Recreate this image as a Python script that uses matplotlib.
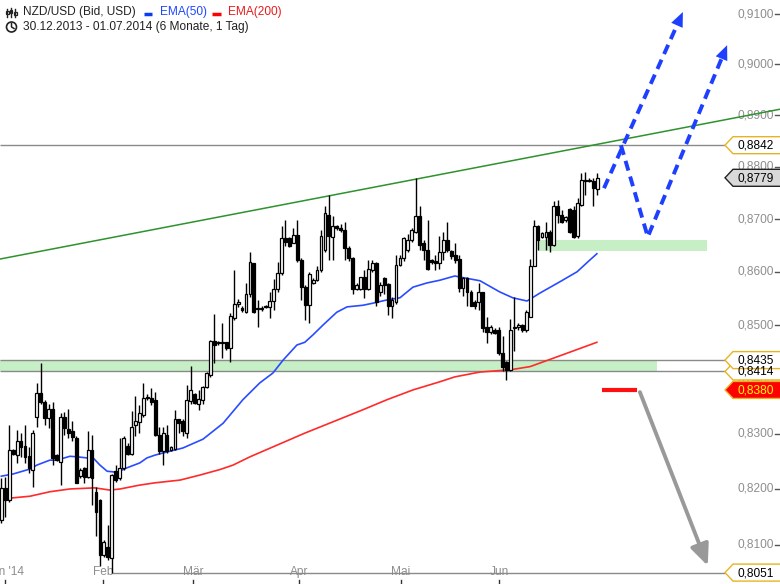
import numpy as np
import matplotlib
matplotlib.use('Agg')
import matplotlib.pyplot as plt
import matplotlib.transforms as mtransforms
from matplotlib.patches import Polygon, Circle, Rectangle

plt.rcParams['font.family'] = ['Liberation Sans', 'DejaVu Sans']

# daily candles NZD/USD (index 0 = first visible day)
opens = [0.8144, 0.8201, 0.8180, 0.8270, 0.8261, 0.8287, 0.8278, 0.8259, 0.8234, 0.8331,
         0.8374, 0.8358, 0.8328, 0.8345, 0.8261, 0.8249, 0.8331, 0.8309, 0.8305, 0.8293,
         0.8223, 0.8238, 0.8222, 0.8270, 0.8195, 0.8180, 0.8082, 0.8097, 0.8077, 0.8232,
         0.8219, 0.8237, 0.8278, 0.8264, 0.8315, 0.8322, 0.8334, 0.8367, 0.8365, 0.8361,
         0.8298, 0.8268, 0.8298, 0.8271, 0.8273, 0.8326, 0.8324, 0.8301, 0.8360, 0.8373,
         0.8355, 0.8361, 0.8386, 0.8407, 0.8471, 0.8466, 0.8469, 0.8469, 0.8457, 0.8513,
         0.8539, 0.8532, 0.8525, 0.8559, 0.8616, 0.8532, 0.8530, 0.8535, 0.8534, 0.8545,
         0.8567, 0.8597, 0.8663, 0.8663, 0.8654, 0.8670, 0.8622, 0.8572, 0.8538, 0.8579,
         0.8585, 0.8604, 0.8641, 0.8708, 0.8666, 0.8686, 0.8682, 0.8679, 0.8644, 0.8626,
         0.8568, 0.8568, 0.8590, 0.8568, 0.8604, 0.8617, 0.8562, 0.8588, 0.8577, 0.8535,
         0.8543, 0.8613, 0.8626, 0.8641, 0.8660, 0.8676, 0.8705, 0.8655, 0.8641, 0.8622,
         0.8621, 0.8616, 0.8638, 0.8661, 0.8640, 0.8631, 0.8624, 0.8569, 0.8588, 0.8562,
         0.8543, 0.8543, 0.8562, 0.8497, 0.8488, 0.8491, 0.8491, 0.8448, 0.8432, 0.8417,
         0.8494, 0.8496, 0.8500, 0.8490, 0.8516, 0.8610, 0.8686, 0.8665, 0.8666, 0.8676,
         0.8651, 0.8724, 0.8708, 0.8698, 0.8719, 0.8717, 0.8668, 0.8727, 0.8775, 0.8774,
         0.8772, 0.8757]
highs = [0.8219, 0.8222, 0.8316, 0.8272, 0.8307, 0.8301, 0.8316, 0.8276, 0.8307, 0.8392,
         0.8429, 0.8361, 0.8355, 0.8358, 0.8263, 0.8337, 0.8340, 0.8345, 0.8323, 0.8295,
         0.8238, 0.8240, 0.8304, 0.8298, 0.8204, 0.8182, 0.8109, 0.8135, 0.8227, 0.8244,
         0.8292, 0.8295, 0.8283, 0.8342, 0.8368, 0.8352, 0.8392, 0.8372, 0.8383, 0.8377,
         0.8313, 0.8313, 0.8316, 0.8278, 0.8343, 0.8327, 0.8326, 0.8389, 0.8424, 0.8375,
         0.8380, 0.8387, 0.8413, 0.8472, 0.8521, 0.8471, 0.8503, 0.8469, 0.8522, 0.8603,
         0.8548, 0.8535, 0.8578, 0.8638, 0.8617, 0.8547, 0.8535, 0.8537, 0.8562, 0.8587,
         0.8619, 0.8686, 0.8698, 0.8665, 0.8683, 0.8699, 0.8626, 0.8575, 0.8600, 0.8588,
         0.8610, 0.8679, 0.8724, 0.8746, 0.8705, 0.8689, 0.8690, 0.8695, 0.8648, 0.8628,
         0.8578, 0.8591, 0.8604, 0.8622, 0.8622, 0.8619, 0.8580, 0.8591, 0.8578, 0.8553,
         0.8631, 0.8632, 0.8666, 0.8672, 0.8682, 0.8778, 0.8724, 0.8660, 0.8698, 0.8625,
         0.8631, 0.8667, 0.8676, 0.8695, 0.8641, 0.8654, 0.8631, 0.8591, 0.8590, 0.8565,
         0.8547, 0.8578, 0.8562, 0.8516, 0.8500, 0.8494, 0.8497, 0.8479, 0.8434, 0.8511,
         0.8553, 0.8503, 0.8502, 0.8528, 0.8624, 0.8698, 0.8688, 0.8676, 0.8695, 0.8679,
         0.8734, 0.8736, 0.8717, 0.8706, 0.8722, 0.8724, 0.8740, 0.8789, 0.8791, 0.8778,
         0.8778, 0.8789]
lows = [0.8139, 0.8150, 0.8177, 0.8261, 0.8246, 0.8258, 0.8246, 0.8228, 0.8204, 0.8313,
        0.8355, 0.8316, 0.8310, 0.8243, 0.8250, 0.8207, 0.8298, 0.8292, 0.8286, 0.8210,
        0.8220, 0.8210, 0.8219, 0.8171, 0.8115, 0.8062, 0.8079, 0.8073, 0.8051, 0.8212,
        0.8216, 0.8234, 0.8262, 0.8261, 0.8296, 0.8301, 0.8331, 0.8362, 0.8352, 0.8296,
        0.8264, 0.8243, 0.8265, 0.8269, 0.8270, 0.8301, 0.8296, 0.8292, 0.8355, 0.8355,
        0.8343, 0.8355, 0.8383, 0.8404, 0.8429, 0.8463, 0.8438, 0.8454, 0.8432, 0.8510,
        0.8533, 0.8525, 0.8522, 0.8553, 0.8522, 0.8497, 0.8527, 0.8532, 0.8513, 0.8528,
        0.8562, 0.8594, 0.8648, 0.8646, 0.8654, 0.8619, 0.8547, 0.8510, 0.8503, 0.8576,
        0.8582, 0.8600, 0.8638, 0.8622, 0.8622, 0.8680, 0.8675, 0.8622, 0.8620, 0.8559,
        0.8565, 0.8565, 0.8550, 0.8565, 0.8600, 0.8535, 0.8555, 0.8559, 0.8519, 0.8513,
        0.8540, 0.8610, 0.8620, 0.8638, 0.8657, 0.8673, 0.8641, 0.8622, 0.8604, 0.8615,
        0.8604, 0.8606, 0.8622, 0.8638, 0.8625, 0.8616, 0.8562, 0.8555, 0.8535, 0.8535,
        0.8530, 0.8528, 0.8488, 0.8466, 0.8484, 0.8484, 0.8445, 0.8414, 0.8398, 0.8414,
        0.8451, 0.8490, 0.8488, 0.8488, 0.8516, 0.8610, 0.8641, 0.8663, 0.8641, 0.8638,
        0.8648, 0.8692, 0.8692, 0.8695, 0.8673, 0.8663, 0.8663, 0.8724, 0.8746, 0.8770,
        0.8724, 0.8746]
closes = [0.8201, 0.8180, 0.8270, 0.8263, 0.8287, 0.8276, 0.8258, 0.8237, 0.8301, 0.8374,
          0.8358, 0.8328, 0.8345, 0.8256, 0.8252, 0.8331, 0.8310, 0.8302, 0.8294, 0.8210,
          0.8235, 0.8222, 0.8271, 0.8219, 0.8159, 0.8082, 0.8106, 0.8079, 0.8225, 0.8216,
          0.8237, 0.8292, 0.8264, 0.8313, 0.8324, 0.8337, 0.8365, 0.8365, 0.8358, 0.8298,
          0.8268, 0.8301, 0.8268, 0.8276, 0.8327, 0.8320, 0.8304, 0.8361, 0.8380, 0.8356,
          0.8363, 0.8386, 0.8412, 0.8470, 0.8463, 0.8469, 0.8467, 0.8457, 0.8517, 0.8539,
          0.8543, 0.8528, 0.8559, 0.8619, 0.8525, 0.8530, 0.8532, 0.8534, 0.8545, 0.8568,
          0.8597, 0.8663, 0.8657, 0.8648, 0.8670, 0.8622, 0.8572, 0.8538, 0.8596, 0.8585,
          0.8604, 0.8668, 0.8711, 0.8668, 0.8686, 0.8682, 0.8679, 0.8644, 0.8626, 0.8568,
          0.8575, 0.8590, 0.8568, 0.8605, 0.8617, 0.8543, 0.8575, 0.8575, 0.8535, 0.8547,
          0.8613, 0.8626, 0.8663, 0.8660, 0.8679, 0.8705, 0.8651, 0.8641, 0.8606, 0.8619,
          0.8616, 0.8638, 0.8661, 0.8641, 0.8630, 0.8622, 0.8569, 0.8589, 0.8562, 0.8536,
          0.8536, 0.8562, 0.8494, 0.8488, 0.8497, 0.8486, 0.8448, 0.8423, 0.8417, 0.8491,
          0.8497, 0.8501, 0.8491, 0.8525, 0.8610, 0.8686, 0.8660, 0.8673, 0.8676, 0.8651,
          0.8724, 0.8708, 0.8695, 0.8703, 0.8676, 0.8666, 0.8731, 0.8775, 0.8772, 0.8772,
          0.8759, 0.8779]

# moving averages, read at points along the lines
ema50_idx = [0, 3, 7.3, 9, 12.3, 14.1, 17.4, 19.2, 21.7, 23, 25, 26.8, 29.3, 31.8, 35.1,
             36.9, 38.9, 41, 46, 51.1, 56.2, 61.2, 65.5, 68.8, 71.4, 74.9, 76.9, 79, 81.5,
             85, 87.6, 91.6, 94.2, 97.7, 101, 104.3, 107.9, 111.1, 114.9, 116.2, 121.3,
             126.3, 129.6, 133.2, 136.5, 141.5, 145.9, 149.1, 150.9]
ema50_val = [0.8223, 0.8227, 0.8236, 0.8243, 0.8252, 0.8252, 0.8259, 0.8258, 0.8256, 0.8258,
             0.8243, 0.8232, 0.8230, 0.8238, 0.8247, 0.8256, 0.8261, 0.8265, 0.8274, 0.8290,
             0.8319, 0.8362, 0.8393, 0.8411, 0.8435, 0.8463, 0.8468, 0.8482, 0.8500, 0.8524,
             0.8534, 0.8537, 0.8541, 0.8547, 0.8551, 0.8571, 0.8579, 0.8584, 0.8592, 0.8590,
             0.8583, 0.8562, 0.8551, 0.8545, 0.8560, 0.8581, 0.8600, 0.8622, 0.8634]
ema200_idx = [0, 7.3, 12.3, 17.4, 23.7, 27.5, 30.1, 35.1, 38.9, 45.3, 50.3, 55.4, 58.7,
              63, 69.8, 76.9, 91.4, 97.7, 104.3, 111.1, 114.9, 121.3, 128.9, 134, 140.8,
              150.9]
ema200_val = [0.8182, 0.8187, 0.8195, 0.8200, 0.8202, 0.8198, 0.8200, 0.8207, 0.8211,
              0.8216, 0.8225, 0.8235, 0.8243, 0.8258, 0.8279, 0.8301, 0.8343, 0.8362,
              0.8380, 0.8395, 0.8404, 0.8413, 0.8417, 0.8423, 0.8441, 0.8468]

trend_idx = [-0.33, 197.3]
trend_val = [0.8624, 0.8912]

# marked levels and zones
resist = 0.8842
zone_lo, zone_hi = 0.8414, 0.8435
feb_low = 0.8051
target_red = 0.8380
zone2_lo, zone2_hi = 0.8639, 0.8660
last_close = 0.8779

# hand drawn scenario arrows (index, price)
up_arrow = [(152.7, 0.8759), (172.7, 0.9104)]
swing_arrow = [(157.0, 0.8842), (163.8, 0.8666), (183.9, 0.9038)]
down_arrow = [(161.8, 0.8376), (179.0, 0.8063)]
red_seg = (152.2, 161.1)

yticks = [0.81, 0.82, 0.83, 0.84, 0.85, 0.86, 0.87, 0.88, 0.89, 0.90, 0.91]
month_pos = [1.0, 25.8, 48.6, 75.5, 101.3, 126.1]
month_lab = ["Jan '14", 'Feb', 'M\u00e4r', 'Apr', 'Mai', 'Jun']

W, H = 780, 584
fig = plt.figure(figsize=(W / 100, H / 100), dpi=100, facecolor='white')
ax = fig.add_axes([0, 0, 1, 1])
ax.set_yscale('log')
ax.set_xlim(-0.33, 197.3)
ax.set_ylim(0.80309, 0.9128)
ax.axis('off')

blend = mtransforms.blended_transform_factory(ax.transAxes, ax.transData)
xblend = mtransforms.blended_transform_factory(ax.transData, ax.transAxes)
FS = 8.6
gray_txt = '#8e8e8e'

# price scale on the right
for t in yticks:
    ax.text(774 / W, t, ('%.4f' % t).replace('.', ','), transform=blend, ha='right',
            va='center', fontsize=FS, color=gray_txt, zorder=1)
    ax.plot([775 / W, 779 / W], [t, t], transform=blend, color='#555555', lw=1, zorder=1)

# month axis
for p, lab in zip(month_pos, month_lab):
    ax.text(p, 1 - 572 / H, lab, transform=xblend, ha='center', va='center',
            fontsize=FS, color=gray_txt, zorder=1)
    ax.plot([p, p], [0, 4 / H], transform=xblend, color='#333333', lw=1, zorder=1)

# zones and levels
ax.fill_between([-0.33, 166.1], zone_lo, zone_hi, color='#c6efc6', lw=0, zorder=1.5)
ax.fill_between([136.0, 178.8], zone2_lo, zone2_hi, color='#c6efc6', lw=0, zorder=1.5)
for lv in (resist, zone_hi, zone_lo):
    ax.hlines(lv, -0.33, 183.4, color='#8a8a8a', lw=1, zorder=2)
ax.hlines(feb_low, 28, 183.4, color='#8a8a8a', lw=1, zorder=2)

ax.plot(trend_idx, trend_val, color='#2e922e', lw=1.1, zorder=2)
ax.plot(ema200_idx, ema200_val, color='#ff2a2a', lw=1.2, zorder=2.5)
ax.plot(ema50_idx, ema50_val, color='#2a4cff', lw=1.2, zorder=2.5)

# candles
o = np.array(opens); h = np.array(highs); l = np.array(lows); c = np.array(closes)
idx = np.arange(len(c))
up = c >= o
ax.vlines(idx, l, h, color='black', lw=1, zorder=3)
ax.bar(idx, np.abs(c - o), bottom=np.minimum(o, c), width=0.72,
       color=np.where(up, 'white', 'black'), edgecolor='black', lw=0.9, zorder=4)


def arrow_head(p_from, p_to, color, length=15):
    a = ax.transData.transform(p_from)
    b = ax.transData.transform(p_to)
    d = (b - a) / np.hypot(*(b - a))
    back = ax.transData.inverted().transform(b - d * length)
    ax.annotate('', xy=p_to, xytext=tuple(back),
                arrowprops=dict(arrowstyle='-|>,head_length=0.75,head_width=0.32',
                                mutation_scale=14, color=color, lw=0,
                                shrinkA=0, shrinkB=0), zorder=6)
    return tuple(back)


blue = '#1f3fff'
for path in (up_arrow, swing_arrow):
    back = arrow_head(path[-2], path[-1], blue)
    xs = [p[0] for p in path[:-1]] + [back[0]]
    ys = [p[1] for p in path[:-1]] + [back[1]]
    ax.plot(xs, ys, color=blue, lw=2.8, ls=(0, (2.6, 1.6)), zorder=5,
            solid_capstyle='butt', dash_capstyle='butt')

ax.hlines(target_red, red_seg[0], red_seg[1], color='#ff1010', lw=3, zorder=5)
ax.annotate('', xy=down_arrow[1], xytext=down_arrow[0],
            arrowprops=dict(arrowstyle='-|>,head_length=0.8,head_width=0.35',
                            mutation_scale=16, color='#999999', lw=2.8,
                            shrinkA=0, shrinkB=0), zorder=5)

# overlay in pixel units for labels and legend
ov = fig.add_axes([0, 0, 1, 1], facecolor='none')
ov.set_xlim(0, W)
ov.set_ylim(H, 0)
ov.axis('off')


def ypx(p):
    return H - ax.transData.transform((0, p))[1]


gold = '#e6b422'
boxes = [(resist, 'white', gold, 'black'), (last_close, '#d9d9d9', '#222222', 'black'),
         (zone_lo, 'white', gold, 'black'), (zone_hi, 'white', gold, 'black'),
         (target_red, '#ff0000', gold, '#ffff00'), (feb_low, 'white', gold, 'black')]
for val, fc, ec, tc in boxes:
    yc = ypx(val)
    hh = 8.5
    ov.add_patch(Polygon([(725, yc), (733, yc - hh), (781, yc - hh), (781, yc + hh),
                          (733, yc + hh)], closed=True, fc=fc, ec=ec, lw=1, zorder=10))
    ov.text(774, yc + 0.5, ('%.4f' % val).replace('.', ','), ha='right', va='center',
            fontsize=FS, color=tc, zorder=11)

# header legend
ov.text(23, 12, 'NZD/USD (Bid, USD)', ha='left', va='center', fontsize=FS, color='#222222')
ov.plot([144, 152], [13.5, 13.5], color='#0a3cf0', lw=2.5, solid_capstyle='butt')
ov.text(160, 12, 'EMA(50)', ha='left', va='center', fontsize=FS, color='#1e46ff')
ov.plot([212, 221], [13.5, 13.5], color='#ff0000', lw=2.5, solid_capstyle='butt')
ov.text(228, 12, 'EMA(200)', ha='left', va='center', fontsize=FS, color='#e81c1c')
ov.text(23, 27, '30.12.2013 - 01.07.2014 (6 Monate, 1 Tag)', ha='left', va='center',
        fontsize=FS, color='#222222')

# small candle icon
for x0, top, bot, b0, b1 in ((7.3, 8.5, 16.5, 11, 14), (11.2, 8, 17, 10, 13),
                             (15.2, 9, 16.5, 12, 15)):
    ov.plot([x0, x0], [top, bot], color='#222222', lw=1)
    ov.add_patch(Rectangle((x0 - 1.3, b0), 2.6, b1 - b0, fc='white', ec='#222222', lw=0.9))
# clock icon
ov.add_patch(Circle((11.5, 27), 5, fc='none', ec='#222222', lw=1.2))
ov.plot([11.5, 11.5, 14], [23.5, 27, 28.5], color='#222222', lw=1.1)

fig.savefig('out.png', dpi=100, facecolor='white')
